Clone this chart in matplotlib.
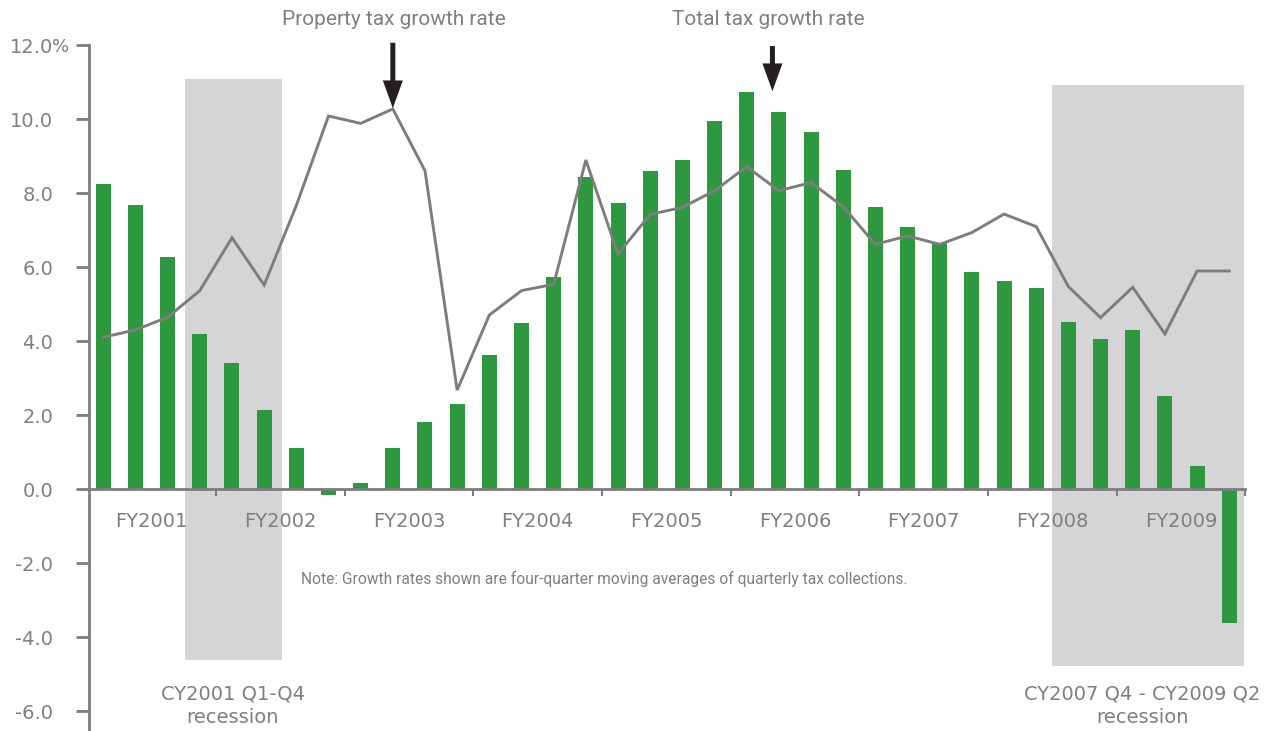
import numpy as np
import matplotlib
matplotlib.use('Agg')
import matplotlib.pyplot as plt
from matplotlib.patches import Rectangle, FancyArrowPatch

plt.rcParams['font.family'] = ['Roboto', 'DejaVu Sans']

# quarterly growth rates, FY2001 Q1 .. FY2009 Q4 (percent)
total_tax = [8.25, 7.68, 6.28, 4.20, 3.41, 2.14, 1.12, -0.15,
             0.17, 1.12, 1.82, 2.31, 3.63, 4.49, 5.74, 8.44,
             7.74, 8.60, 8.90, 9.95, 10.74, 10.20, 9.66, 8.63,
             7.63, 7.09, 6.65, 5.86, 5.64, 5.43, 4.52, 4.06,
             4.30, 2.52, 0.62, -3.61]
property_tax = [4.11, 4.31, 4.65, 5.37, 6.80, 5.52, 7.67, 10.09,
                9.89, 10.28, 8.61, 2.68, 4.71, 5.37, 5.54, 8.90,
                6.36, 7.43, 7.62, 8.07, 8.72, 8.07, 8.29, 7.64,
                6.62, 6.85, 6.62, 6.94, 7.44, 7.10, 5.48, 4.64,
                5.46, 4.20, 5.90, 5.90]
fiscal_years = ['FY2001', 'FY2002', 'FY2003', 'FY2004', 'FY2005',
                'FY2006', 'FY2007', 'FY2008', 'FY2009']
y_ticks = [-6, -4, -2, 0, 2, 4, 6, 8, 10, 12]

# recessions as (first quarter edge, last quarter edge, bottom, top)
recessions = [(2.55, 5.55, -4.61, 11.09), (29.5, 35.46, -4.77, 10.93)]
recession_labels = ['CY2001 Q1-Q4\nrecession', 'CY2007 Q4 - CY2009 Q2\nrecession']
recession_label_x = [4.02, 32.29]

green = '#2e9841'
gray = '#7d7d7d'
text_gray = '#7f7f7f'
dv = ['DejaVu Sans']

fig = plt.figure(figsize=(12.66, 7.31), dpi=100)
ax = fig.add_axes([0.07054, -0.0085, 0.9144, 0.9465])

x = np.arange(len(total_tax))

for x0, x1, y0, y1 in recessions:
  ax.add_patch(Rectangle((x0, y0), x1 - x0, y1 - y0, facecolor='#d5d5d7',
                         edgecolor='none', zorder=0.5, clip_on=False))

ax.bar(x, total_tax, width=0.466, color=green, zorder=2)
ax.plot(x, property_tax, color=gray, lw=2.1, zorder=3, solid_joinstyle='miter')

ax.set_xlim(-0.435, 35.55)
ax.set_ylim(-6.7, 12)

# axes: y spine on the left, x spine sitting on zero
for s in ['top', 'right']:
  ax.spines[s].set_visible(False)
ax.spines['bottom'].set_position(('data', 0))
ax.spines['bottom'].set_bounds(-0.435, 35.5)
ax.spines['left'].set_bounds(-6.7, 12)
for s in ['bottom', 'left']:
  ax.spines[s].set_color(gray)
  ax.spines[s].set_linewidth(2.0)
  ax.spines[s].set_zorder(4)

ax.set_xticks(np.arange(3.5, 36, 4))
ax.set_xticklabels([])
ax.tick_params(axis='x', direction='out', length=5, width=1.5, color=gray)

ax.set_yticks(y_ticks)
ax.set_yticklabels(['%.1f' % v for v in y_ticks], family=dv)
ax.tick_params(axis='y', direction='out', length=9.4, width=2.0, color=gray,
               pad=16.5, labelsize=14, labelcolor=text_gray)
ax.annotate('%', xy=(0, 12), xycoords=('axes fraction', 'data'),
            xytext=(-26.6, 0), textcoords='offset points', family=dv,
            ha='left', va='center_baseline', fontsize=13, color=text_gray)

# fiscal year names centred under their four quarters
for i, fy in enumerate(fiscal_years):
  ax.text(4 * i + 1.5, -0.88, fy, ha='center', va='center', family=dv,
          fontsize=14, color=text_gray, zorder=3)

for lx, lab in zip(recession_label_x, recession_labels):
  ax.text(lx, -5.84, lab, ha='center', va='center', fontsize=14, family=dv,
          color=text_gray, linespacing=1.3, clip_on=False)

ax.text(6.15, -2.42, 'Note: Growth rates shown are four-quarter moving '
        'averages of quarterly tax collections.', ha='left', va='center',
        fontsize=11.2, color=text_gray)

# pointers to the two series (sizes in points)
for tip, tail in [((9.0, 10.30), (9.0, 12.07)), ((20.8, 10.76), (20.8, 11.98))]:
  arr = FancyArrowPatch(tail, tip, mutation_scale=1,
                        arrowstyle='simple,head_length=20,head_width=14.4,tail_width=3.6',
                        color='#231f20', lw=0, shrinkA=0, shrinkB=0,
                        clip_on=False, zorder=5)
  ax.add_patch(arr)

ax.text(9.03, 12.71, 'Property tax growth rate', ha='center', va='center',
        fontsize=15, color=text_gray, clip_on=False)
ax.text(20.66, 12.71, 'Total tax growth rate', ha='center', va='center',
        fontsize=15, color=text_gray, clip_on=False)

fig.savefig('out.png', dpi=100)
